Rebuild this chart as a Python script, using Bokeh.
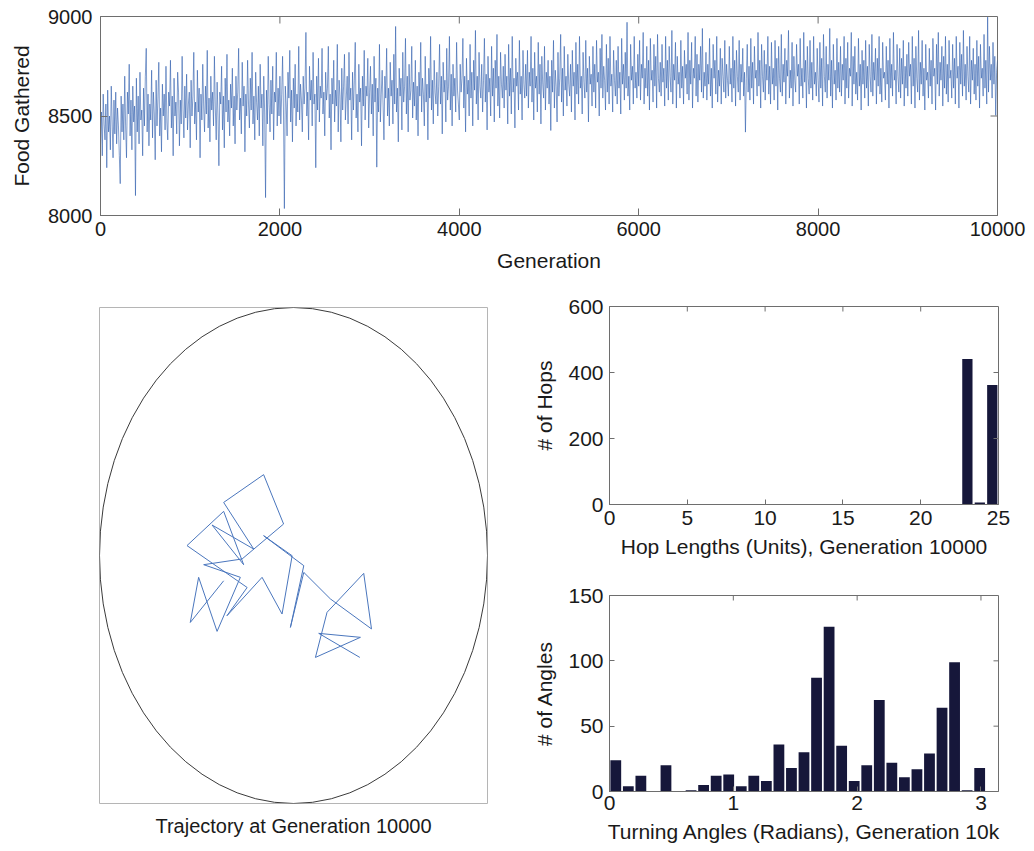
import numpy as np
from bokeh.plotting import figure
from bokeh.layouts import column, row
from bokeh.models import FixedTicker, Range1d
from bokeh.embed import file_html
from bokeh.resources import INLINE

# ---------------- data ----------------
# food gathered, sampled every 10 generations (0 .. 10000)
generation_step = 10
food_gathered = [
    8350, 8520, 8300, 8610, 8460, 8380, 8560, 8240, 8630, 8420, 8500, 8330, 8650, 8470, 8290, 8580, 8410, 8620, 8360, 8540, 8450, 8300, 8160, 8600, 8420,
    8560, 8380, 8700, 8450, 8290, 8620, 8510, 8760, 8400, 8580, 8330, 8650, 8470, 8550, 8100, 8690, 8420, 8600, 8360, 8720, 8480, 8530, 8300, 8640, 8450,
    8700, 8840, 8420, 8610, 8350, 8560, 8480, 8730, 8390, 8620, 8510, 8280, 8680, 8450, 8590, 8770, 8400, 8540, 8320, 8660, 8500, 8610, 8430, 8750, 8470,
    8380, 8620, 8550, 8780, 8440, 8600, 8300, 8690, 8500, 8570, 8410, 8720, 8620, 8350, 8580, 8460, 8800, 8530, 8390, 8650, 8490, 8710, 8430, 8560, 8620,
    8340, 8680, 8500, 8600, 8820, 8460, 8570, 8380, 8730, 8520, 8640, 8290, 8610, 8480, 8760, 8550, 8420, 8650, 8510, 8830, 8440, 8590, 8370, 8700, 8530,
    8620, 8450, 8800, 8540, 8380, 8670, 8500, 8250, 8620, 8560, 8750, 8430, 8600, 8340, 8690, 8520, 8810, 8470, 8580, 8400, 8660, 8540, 8740, 8450, 8600,
    8360, 8700, 8530, 8620, 8840, 8480, 8590, 8410, 8770, 8550, 8650, 8320, 8610, 8500, 8780, 8560, 8440, 8690, 8530, 8820, 8460, 8600, 8380, 8720, 8570,
    8480, 8650, 8400, 8760, 8540, 8610, 8350, 8700, 8520, 8090, 8630, 8460, 8800, 8560, 8420, 8680, 8510, 8750, 8380, 8620, 8570, 8820, 8450, 8640, 8500,
    8700, 8460, 8610, 8800, 8520, 8035, 8650, 8560, 8400, 8720, 8590, 8830, 8470, 8630, 8370, 8690, 8540, 8760, 8450, 8610, 8520, 8850, 8480, 8660, 8580,
    8420, 8700, 8560, 8640, 8920, 8500, 8620, 8380, 8750, 8580, 8680, 8450, 8820, 8560, 8610, 8240, 8700, 8530, 8790, 8470, 8650, 8590, 8840, 8510, 8620,
    8400, 8720, 8580, 8640, 8850, 8490, 8610, 8330, 8690, 8560, 8780, 8470, 8630, 8550, 8860, 8420, 8680, 8600, 8370, 8740, 8530, 8650, 8810, 8480, 8590,
    8700, 8460, 8820, 8580, 8640, 8380, 8720, 8530, 8680, 8870, 8490, 8610, 8420, 8760, 8570, 8640, 8350, 8700, 8550, 8830, 8480, 8650, 8600, 8790, 8440,
    8620, 8750, 8510, 8660, 8400, 8800, 8570, 8690, 8243, 8640, 8520, 8860, 8470, 8610, 8730, 8560, 8380, 8700, 8590, 8840, 8500, 8640, 8450, 8770, 8600,
    8680, 8460, 8810, 8560, 8950, 8520, 8640, 8370, 8740, 8600, 8690, 8430, 8820, 8570, 8650, 8890, 8510, 8700, 8420, 8760, 8580, 8630, 8850, 8490, 8670,
    8550, 8780, 8480, 8650, 8400, 8720, 8600, 8870, 8520, 8690, 8610, 8450, 8800, 8570, 8660, 8380, 8740, 8590, 8900, 8530, 8680, 8460, 8780, 8620, 8560,
    8720, 8500, 8650, 8860, 8560, 8700, 8410, 8770, 8620, 8680, 8470, 8840, 8580, 8650, 8900, 8530, 8710, 8450, 8760, 8600, 8690, 8520, 8870, 8630, 8560,
    8480, 8760, 8620, 8690, 8890, 8540, 8700, 8420, 8790, 8610, 8680, 8500, 8860, 8590, 8720, 8450, 8780, 8630, 8930, 8560, 8700, 8480, 8820, 8650, 8590,
    8760, 8520, 8680, 8890, 8570, 8710, 8430, 8800, 8620, 8690, 8500, 8850, 8600, 8740, 8470, 8780, 8640, 8910, 8550, 8700, 8490, 8820, 8660, 8590, 8750,
    8540, 8810, 8630, 8700, 8460, 8860, 8600, 8740, 8510, 8900, 8620, 8690, 8440, 8790, 8650, 8720, 8530, 8880, 8610, 8700, 8480, 8830, 8660, 8590, 8760,
    8600, 8830, 8540, 8720, 8650, 8900, 8570, 8740, 8480, 8820, 8640, 8700, 8520, 8870, 8610, 8760, 8460, 8800, 8660, 8590, 8850, 8530, 8720, 8640, 8780,
    8560, 8700, 8427, 8780, 8620, 8880, 8540, 8730, 8650, 8470, 8820, 8600, 8690, 8910, 8570, 8740, 8500, 8850, 8630, 8700, 8550, 8810, 8660, 8600, 8760,
    8520, 8830, 8650, 8720, 8480, 8870, 8610, 8760, 8560, 8900, 8640, 8700, 8510, 8820, 8670, 8590, 8880, 8620, 8740, 8470, 8800, 8660, 8710, 8550, 8850,
    8620, 8760, 8540, 8880, 8670, 8720, 8500, 8840, 8640, 8910, 8590, 8750, 8680, 8530, 8860, 8620, 8790, 8560, 8900, 8650, 8710, 8520, 8830, 8680, 8600,
    8780, 8560, 8850, 8640, 8720, 8510, 8890, 8660, 8760, 8580, 8820, 8640, 8971, 8600, 8700, 8530, 8860, 8680, 8750, 8560, 8900, 8640, 8720, 8590, 8810,
    8650, 8880, 8580, 8760, 8690, 8920, 8560, 8740, 8640, 8850, 8600, 8780, 8530, 8890, 8680, 8730, 8570, 8860, 8650, 8800, 8540, 8910, 8690, 8620, 8770,
    8600, 8860, 8670, 8740, 8550, 8900, 8640, 8780, 8580, 8850, 8700, 8620, 8930, 8560, 8760, 8680, 8870, 8540, 8800, 8660, 8720, 8590, 8880, 8640, 8750,
    8560, 8830, 8690, 8760, 8610, 8920, 8580, 8780, 8660, 8870, 8540, 8740, 8690, 8900, 8600, 8810, 8570, 8760, 8680, 8850, 8620, 8940, 8590, 8720, 8650,
    8820, 8580, 8760, 8660, 8890, 8600, 8740, 8540, 8860, 8690, 8780, 8610, 8900, 8570, 8730, 8650, 8840, 8560, 8790, 8700, 8620, 8880, 8590, 8760, 8680,
    8600, 8850, 8660, 8740, 8570, 8900, 8640, 8780, 8550, 8830, 8700, 8620, 8880, 8580, 8760, 8670, 8840, 8600, 8720, 8419, 8690, 8860, 8620, 8750, 8580,
    8890, 8640, 8770, 8560, 8850, 8690, 8730, 8600, 8920, 8650, 8780, 8540, 8860, 8700, 8620, 8830, 8580, 8760, 8680, 8900, 8610, 8750, 8560, 8870, 8660,
    8740, 8580, 8880, 8650, 8790, 8530, 8850, 8690, 8620, 8910, 8600, 8760, 8670, 8840, 8560, 8780, 8700, 8930, 8590, 8730, 8640, 8870, 8550, 8800, 8680,
    8620, 8860, 8700, 8760, 8560, 8890, 8650, 8740, 8590, 8920, 8670, 8780, 8540, 8850, 8690, 8610, 8880, 8640, 8770, 8580, 8900, 8660, 8720, 8600, 8840,
    8680, 8570, 8870, 8640, 8790, 8550, 8910, 8700, 8620, 8850, 8590, 8760, 8680, 8940, 8600, 8780, 8540, 8860, 8660, 8730, 8580, 8890, 8640, 8770, 8620,
    8850, 8600, 8760, 8680, 8900, 8560, 8790, 8640, 8870, 8590, 8740, 8700, 8920, 8550, 8800, 8660, 8850, 8610, 8720, 8580, 8890, 8650, 8760, 8530, 8830,
    8660, 8780, 8590, 8880, 8640, 8750, 8550, 8860, 8700, 8620, 8910, 8600, 8770, 8680, 8840, 8560, 8790, 8650, 8900, 8610, 8740, 8570, 8870, 8690, 8720,
    8580, 8850, 8660, 8780, 8540, 8890, 8640, 8760, 8600, 8920, 8680, 8730, 8560, 8860, 8700, 8620, 8840, 8590, 8790, 8660, 8880, 8550, 8750, 8640, 8810,
    8600, 8870, 8700, 8760, 8560, 8900, 8650, 8790, 8540, 8850, 8690, 8620, 8930, 8580, 8770, 8660, 8880, 8600, 8740, 8530, 8860, 8680, 8720, 8590, 8840,
    8650, 8780, 8560, 8890, 8700, 8740, 8530, 8860, 8660, 8920, 8600, 8770, 8680, 8850, 8550, 8800, 8640, 8900, 8610, 8760, 8570, 8880, 8690, 8730, 8590,
    8860, 8640, 8790, 8560, 8900, 8690, 8750, 8540, 8870, 8660, 8810, 8600, 8930, 8650, 8760, 8580, 8850, 8700, 8620, 8900, 8560, 8780, 8680, 8840, 8610,
    8760, 8580, 8880, 8650, 8800, 8540, 8860, 8690, 8740, 8600, 8910, 8640, 8780, 8560, 8997, 8620, 8850, 8680, 8760, 8590, 8870, 8660, 8800, 8503, 8720,
    8780,
]
food_xticks = [0, 2000, 4000, 6000, 8000, 10000]
food_yticks = [8000, 8500, 9000]

# trajectory of the forager at generation 10000 (arena units, arena radius 100)
arena_radius = 100
traj_x = [-36.0, -53.2, -48.9, -39.4, -27.4, -46.3, -26.5, -5.1, -15.4, -36.0, -20.5, -42.0, -25.7, -36.0,
          -54.9, -23.9, -34.3, -16.2, -5.9, -0.7, -15.4, 5.3, -1.6, 5.3, 19.0, 40.2, 36.2, 17.3, 11.3,
          34.5, 13.0, 34.2]
traj_y = [-10.2, -27.0, -8.8, -30.6, -8.8, -3.7, -1.4, 12.7, 32.6, 21.4, 2.6, 12.3, -3.7, 17.8,
          4.0, -12.9, -24.3, -8.8, -23.6, -0.1, 8.0, -4.1, -29.0, -6.8, -17.5, -29.6, -7.2, -22.9, -41.1,
          -33.0, -31.4, -41.1]

# hop length histogram
hop_bin_centers = [23.0, 23.8, 24.6]
hop_counts = [441, 6, 362]
hop_xticks = [0, 5, 10, 15, 20, 25]
hop_yticks = [0, 200, 400, 600]

# turning angle histogram (31 equal bins over [0, pi])
angle_counts = [24, 4, 12, 0, 20, 0, 1, 5, 12, 13, 4, 12, 8, 36, 18, 30, 87, 126, 35, 8, 20,
                70, 22, 11, 17, 29, 64, 99, 1, 18, 0]
angle_xticks = [0, 1, 2, 3]
angle_yticks = [0, 50, 100, 150]

# ---------------- styling ----------------
FONT = "Liberation Sans"
TEXT = "#1a1a1a"
AXIS = "#6e6e6e"
BAR = "#16173a"
LINE = "#2f5dae"


def base_figure(**kw):
    p = figure(output_backend="svg", toolbar_location=None, **kw)
    p.background_fill_color = "white"
    p.border_fill_color = "white"
    p.outline_line_color = AXIS
    p.grid.visible = False
    return p


def style_axes(p, xticks, yticks, tick_len, tick_size, label_size):
    for ax in p.xaxis + p.yaxis:
        ax.major_tick_in = tick_len
        ax.major_tick_out = 0
        ax.minor_tick_line_color = None
        ax.axis_line_color = AXIS
        ax.major_tick_line_color = AXIS
        ax.major_label_text_font = FONT
        ax.major_label_text_font_size = tick_size
        ax.major_label_text_color = TEXT
        ax.axis_label_text_font = FONT
        ax.axis_label_text_font_size = label_size
        ax.axis_label_text_font_style = "normal"
        ax.axis_label_text_color = TEXT
    p.xaxis.ticker = FixedTicker(ticks=xticks)
    p.yaxis.ticker = FixedTicker(ticks=yticks)


def box_ticks(p, xticks, yticks, tick_len):
    """Inward tick marks on the top and right edges of the plot box."""
    x0, x1 = p.x_range.start, p.x_range.end
    y0, y1 = p.y_range.start, p.y_range.end
    fw = p.width - p.min_border_left - p.min_border_right
    fh = p.height - p.min_border_top - p.min_border_bottom
    dx = tick_len * (x1 - x0) / fw
    dy = tick_len * (y1 - y0) / fh
    xs = [t for t in xticks if x0 < t < x1]
    ys = [t for t in yticks if y0 < t < y1]
    p.segment(x0=xs, y0=[y1] * len(xs), x1=xs, y1=[y1 - dy] * len(xs),
              line_color=AXIS, line_width=1)
    p.segment(x0=[x1] * len(ys), y0=ys, x1=[x1 - dx] * len(ys), y1=ys,
              line_color=AXIS, line_width=1)


# ---------------- food gathered vs generation ----------------
gens = np.arange(len(food_gathered)) * generation_step
p_food = base_figure(width=1034, height=285,
                     x_range=Range1d(0, 10000), y_range=Range1d(8000, 9000),
                     min_border_left=100, min_border_right=37,
                     min_border_top=16, min_border_bottom=70)
p_food.line(gens, food_gathered, line_color=LINE, line_width=0.75, line_alpha=0.8)
style_axes(p_food, food_xticks, food_yticks, 7, "20px", "21px")
box_ticks(p_food, food_xticks, food_yticks, 7)
p_food.xaxis.axis_label = "Generation"
p_food.yaxis.axis_label = "Food Gathered"
p_food.xaxis.major_label_standoff = 6
p_food.yaxis.major_label_standoff = 8
p_food.xaxis.axis_label_standoff = 10
p_food.yaxis.axis_label_standoff = 12

# ---------------- trajectory ----------------
p_traj = base_figure(width=520, height=566,
                     x_range=Range1d(-arena_radius, arena_radius),
                     y_range=Range1d(-arena_radius, arena_radius),
                     min_border_left=99, min_border_right=33,
                     min_border_top=22, min_border_bottom=48)
p_traj.outline_line_color = "#b5b5b5"
p_traj.ellipse(x=[0], y=[0], width=[2 * arena_radius], height=[2 * arena_radius],
               fill_color=None, line_color="#3a3a3a", line_width=1)
p_traj.line(traj_x, traj_y, line_color="#4a76bd", line_width=1)
p_traj.yaxis.visible = False
xa = p_traj.xaxis[0]
xa.ticker = FixedTicker(ticks=[])
xa.axis_line_color = None
xa.major_tick_line_color = None
xa.minor_tick_line_color = None
xa.major_label_standoff = 0
xa.axis_label = "Trajectory at Generation 10000"
xa.axis_label_text_font = FONT
xa.axis_label_text_font_size = "20px"
xa.axis_label_text_font_style = "normal"
xa.axis_label_text_color = TEXT
xa.axis_label_standoff = 11

# ---------------- hop lengths ----------------
p_hop = base_figure(width=514, height=285,
                    x_range=Range1d(0, 25), y_range=Range1d(0, 600),
                    min_border_left=89, min_border_right=36,
                    min_border_top=21, min_border_bottom=66)
p_hop.vbar(x=hop_bin_centers, top=hop_counts, width=0.66, fill_color=BAR, line_color=None)
style_axes(p_hop, hop_xticks, hop_yticks, 5, "21px", "21px")
box_ticks(p_hop, hop_xticks, hop_yticks, 5)
p_hop.xaxis.axis_label = "Hop Lengths (Units), Generation 10000"
p_hop.yaxis.axis_label = "# of Hops"
p_hop.xaxis.major_label_standoff = 6
p_hop.yaxis.major_label_standoff = 6
p_hop.xaxis.axis_label_standoff = 7
p_hop.yaxis.axis_label_standoff = 9

# ---------------- turning angles ----------------
edges = np.linspace(0, np.pi, len(angle_counts) + 1)
angle_centers = (edges[:-1] + edges[1:]) / 2
bin_w = edges[1] - edges[0]
p_ang = base_figure(width=514, height=281,
                    x_range=Range1d(0, np.pi), y_range=Range1d(0, 150),
                    min_border_left=89, min_border_right=36,
                    min_border_top=25, min_border_bottom=60)
p_ang.vbar(x=angle_centers, top=angle_counts, width=bin_w * 0.86, fill_color=BAR, line_color=None)
style_axes(p_ang, angle_xticks, angle_yticks, 5, "21px", "21px")
box_ticks(p_ang, angle_xticks, angle_yticks, 5)
p_ang.xaxis.axis_label = "Turning Angles (Radians), Generation 10k"
p_ang.yaxis.axis_label = "# of Angles"
p_ang.xaxis.major_label_standoff = 4
p_ang.yaxis.major_label_standoff = 6
p_ang.xaxis.axis_label_standoff = 7
p_ang.yaxis.axis_label_standoff = 9

page = column(p_food, row(p_traj, column(p_hop, p_ang)))

with open("out.html", "w") as f:
    f.write(file_html(page, INLINE, title="Forager evolution"))
